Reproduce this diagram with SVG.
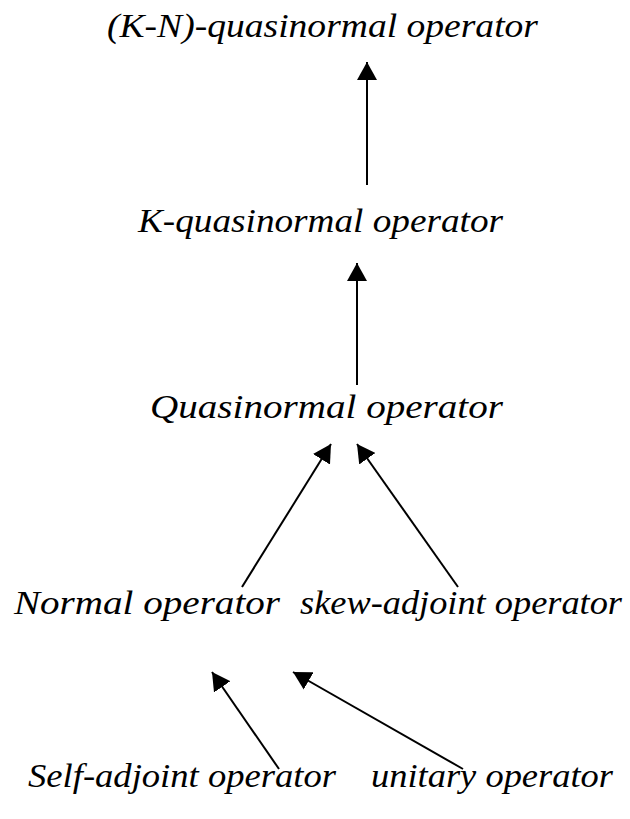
<svg xmlns="http://www.w3.org/2000/svg" width="630" height="819" viewBox="0 0 630 819">
  <style>
    .lbl { font-family: "Times New Roman", "Liberation Serif", serif; font-style: italic; font-size: 33px; fill: #000; }
    .edge { stroke: #000; stroke-width: 2; fill: none; marker-end: url(#head); }
  </style>
  <defs>
    <marker id="head" viewBox="0 0 18 20" refX="18" refY="10" markerWidth="18" markerHeight="20" markerUnits="userSpaceOnUse" orient="auto">
      <path d="M0,0 L18,10 L0,20 Z" fill="#000"/>
    </marker>
  </defs>
  <rect width="630" height="819" fill="#fff"/>

  <g id="kn-quasinormal"><text class="lbl" x="107" y="37" textLength="431" lengthAdjust="spacingAndGlyphs">(K-N)-quasinormal operator</text></g>
  <g id="k-quasinormal"><text class="lbl" x="138" y="232" textLength="365" lengthAdjust="spacingAndGlyphs">K-quasinormal operator</text></g>
  <g id="quasinormal"><text class="lbl" x="150" y="418" textLength="353" lengthAdjust="spacingAndGlyphs">Quasinormal operator</text></g>
  <g id="normal"><text class="lbl" x="14" y="614" textLength="266" lengthAdjust="spacingAndGlyphs">Normal operator</text></g>
  <g id="skew-adjoint"><text class="lbl" x="300" y="614" textLength="322" lengthAdjust="spacingAndGlyphs">skew-adjoint operator</text></g>
  <g id="self-adjoint"><text class="lbl" x="28" y="787" textLength="308" lengthAdjust="spacingAndGlyphs">Self-adjoint operator</text></g>
  <g id="unitary"><text class="lbl" x="371" y="787" textLength="242" lengthAdjust="spacingAndGlyphs">unitary operator</text></g>

  <g id="connectors">
    <line class="edge" x1="367" y1="185" x2="367" y2="62"/>
    <line class="edge" x1="357" y1="385" x2="357" y2="263"/>
    <line class="edge" x1="242" y1="587" x2="331" y2="444"/>
    <line class="edge" x1="458" y1="587" x2="357" y2="444"/>
    <line class="edge" x1="279" y1="769" x2="212" y2="672"/>
    <line class="edge" x1="463" y1="769" x2="293" y2="672"/>
  </g>
</svg>
